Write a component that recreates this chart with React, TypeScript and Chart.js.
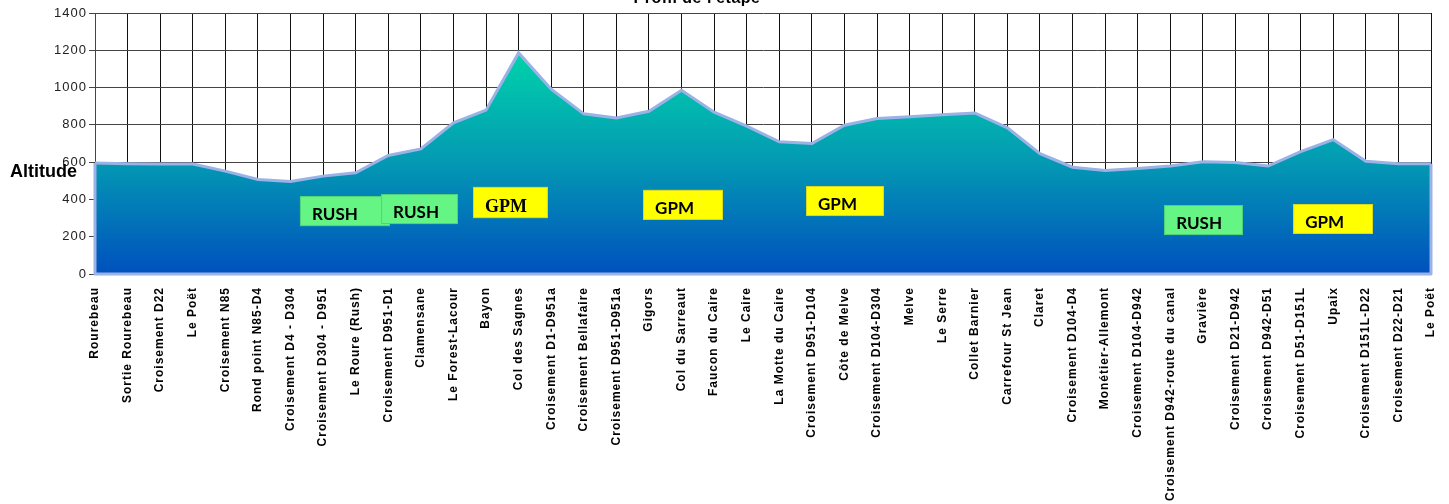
import React, { useEffect, useRef } from "react";
import { Chart, registerables } from "chart.js";

Chart.register(...registerables);

const TITLE = "Profil de l'étape";
const Y_LABEL = "Altitude";

const categories = [
  "Rourebeau", "Sortie Rourebeau", "Croisement D22", "Le Poët", "Croisement N85",
  "Rond point N85-D4", "Croisement D4 - D304", "Croisement D304 - D951", "Le Roure (Rush)",
  "Croisement D951-D1", "Clamensane", "Le Forest-Lacour", "Bayon", "Col des Sagnes",
  "Croisement D1-D951a", "Croisement Bellafaire", "Croisement D951-D951a", "Gigors",
  "Col du Sarreaut", "Faucon du Caire", "Le Caire", "La Motte du Caire",
  "Croisement D951-D104", "Côte de Melve", "Croisement D104-D304", "Melve", "Le Serre",
  "Collet Barnier", "Carrefour St Jean", "Claret", "Croisement D104-D4",
  "Monétier-Allemont", "Croisement D104-D942", "Croisement D942-route du canal",
  "Gravière", "Croisement D21-D942", "Croisement D942-D51", "Croisement D51-D151L",
  "Upaix", "Croisement D151L-D22", "Croisement D22-D21", "Le Poët",
];

const altitude = [
  595, 592, 590, 590, 552, 507, 496, 525, 543, 636, 671, 811, 879, 1186,
  991, 859, 837, 873, 986, 868, 793, 709, 700, 798, 834, 843, 854, 864,
  784, 645, 573, 555, 566, 579, 602, 598, 579, 657, 721, 605, 591, 591,
];

const yTicks = [0, 200, 400, 600, 800, 1000, 1200, 1400];

// Annotation boxes: text, x range (category index units), y range (altitude units)
const boxLabels = ["RUSH", "RUSH", "GPM", "GPM", "GPM", "RUSH", "GPM"];
const boxXFrom = [6.29, 8.78, 11.6, 16.82, 21.82, 32.81, 36.77];
const boxXTo = [9.05, 11.14, 13.9, 19.27, 24.21, 35.23, 39.22];
const boxYTop = [418, 429, 467, 451, 472, 370, 375];
const boxYBottom = [257, 268, 300, 290, 311, 209, 215];
const boxSerif = [false, false, true, false, false, false, false];

export default function App() {
  const ref = useRef<HTMLCanvasElement | null>(null);

  useEffect(() => {
    if (!ref.current) return;

    const spacingPlugin = {
      id: "spacing",
      beforeLayout(chart: any) {
        (chart.ctx as any).letterSpacing = "1px";
      },
      beforeDraw(chart: any) {
        (chart.ctx as any).letterSpacing = "1px";
      },
    };

    const outlinePlugin = {
      id: "outline",
      afterDatasetsDraw(chart: any) {
        const meta = chart.getDatasetMeta(0);
        const ys = chart.scales.y;
        const pts = meta.data;
        if (!pts.length) return;
        const ctx = chart.ctx;
        const base = ys.getPixelForValue(0);
        ctx.save();
        ctx.strokeStyle = "#9AB2E6";
        ctx.lineWidth = 3;
        ctx.lineJoin = "round";
        ctx.beginPath();
        ctx.moveTo(pts[0].x, pts[0].y);
        ctx.lineTo(pts[0].x, base);
        ctx.lineTo(pts[pts.length - 1].x, base);
        ctx.lineTo(pts[pts.length - 1].x, pts[pts.length - 1].y);
        ctx.stroke();
        ctx.restore();
      },
    };

    const boxesPlugin = {
      id: "boxes",
      afterDraw(chart: any) {
        const ctx = chart.ctx;
        const xs = chart.scales.x;
        const ys = chart.scales.y;
        const step = xs.getPixelForValue(1) - xs.getPixelForValue(0);
        const x0 = xs.getPixelForValue(0);
        ctx.save();
        (ctx as any).letterSpacing = "0px";
        for (let i = 0; i < boxLabels.length; i++) {
          const l = x0 + boxXFrom[i] * step;
          const r = x0 + boxXTo[i] * step;
          const t = ys.getPixelForValue(boxYTop[i]);
          const b = ys.getPixelForValue(boxYBottom[i]);
          const isRush = boxLabels[i] === "RUSH";
          ctx.fillStyle = isRush ? "#64F584" : "#FFFF00";
          ctx.fillRect(l, t, r - l, b - t);
          ctx.strokeStyle = isRush ? "#52D27A" : "#D8D820";
          ctx.lineWidth = 1;
          ctx.strokeRect(l + 0.5, t + 0.5, r - l - 1, b - t - 1);
          ctx.fillStyle = "#000";
          ctx.font = boxSerif[i]
            ? "bold 18px 'Liberation Serif', serif"
            : "bold 17px Lato, 'Open Sans', sans-serif";
          ctx.textAlign = "left";
          ctx.textBaseline = "alphabetic";
          ctx.fillText(boxLabels[i], l + 12, b - 6);
        }
        // Axis title
        ctx.font = "bold 18px 'Liberation Sans', Arial, sans-serif";
        ctx.fillStyle = "#000";
        ctx.textAlign = "left";
        ctx.fillText(Y_LABEL, 10, 177);
        // Chart title (partly cut off at top)
        (ctx as any).letterSpacing = "0.5px";
        ctx.font = "bold 16px 'Liberation Sans', Arial, sans-serif";
        ctx.textAlign = "center";
        ctx.fillText(TITLE, 697, 3);
        ctx.restore();
      },
    };

    const chart = new Chart(ref.current, {
      type: "line",
      data: {
        labels: categories,
        datasets: [
          {
            data: altitude,
            fill: "origin",
            borderColor: "#9AB2E6",
            borderWidth: 3,
            pointRadius: 0,
            tension: 0,
            backgroundColor: (c: any) => {
              const ca = c.chart.chartArea;
              if (!ca) return "#0390B4";
              const ys = c.chart.scales.y;
              const g = c.chart.ctx.createLinearGradient(0, ys.getPixelForValue(1200), 0, ys.getPixelForValue(0));
              g.addColorStop(0, "#00D4AA");
              g.addColorStop(0.5, "#0399B3");
              g.addColorStop(1, "#0050BE");
              return g;
            },
          },
        ],
      },
      options: {
        animation: false,
        responsive: true,
        maintainAspectRatio: false,
        layout: { padding: { left: 0, top: 13, right: 18, bottom: 0 } },
        plugins: {
          legend: { display: false },
          tooltip: { enabled: false },
          title: { display: false },
        },
        scales: {
          x: {
            offset: false,
            grid: { color: "#111", lineWidth: 1, drawTicks: false },
            border: { color: "#9AB2E6", width: 1 },
            ticks: {
              autoSkip: false,
              maxRotation: 90,
              minRotation: 90,
              padding: 13,
              color: "#000",
              font: { family: "'Liberation Sans', Arial, sans-serif", size: 12, weight: "bold" },
            },
            afterFit(scale: any) {
              scale.height = 230;
              scale.paddingLeft = 0;
              scale.paddingRight = 0;
            },
          },
          y: {
            min: 0,
            max: 1400,
            afterBuildTicks(scale: any) {
              scale.ticks = yTicks.map((v) => ({ value: v }));
            },
            grid: { color: "#444", lineWidth: 1, tickLength: 6 },
            border: { color: "#444" },
            ticks: {
              padding: 2,
              color: "#222",
              font: { family: "'Liberation Sans', Arial, sans-serif", size: 13 },
              callback: (v: any) => String(v),
            },
            afterFit(scale: any) {
              scale.width = 95;
              scale.paddingTop = 0;
              scale.paddingBottom = 0;
            },
          },
        },
      },
      plugins: [spacingPlugin, outlinePlugin, boxesPlugin],
    });
    return () => chart.destroy();
  }, []);

  return (
    <div style={{ position: "absolute", left: 0, top: 0, width: 1449, height: 504, background: "#fff" }}>
      <canvas ref={ref} />
    </div>
  );
}
